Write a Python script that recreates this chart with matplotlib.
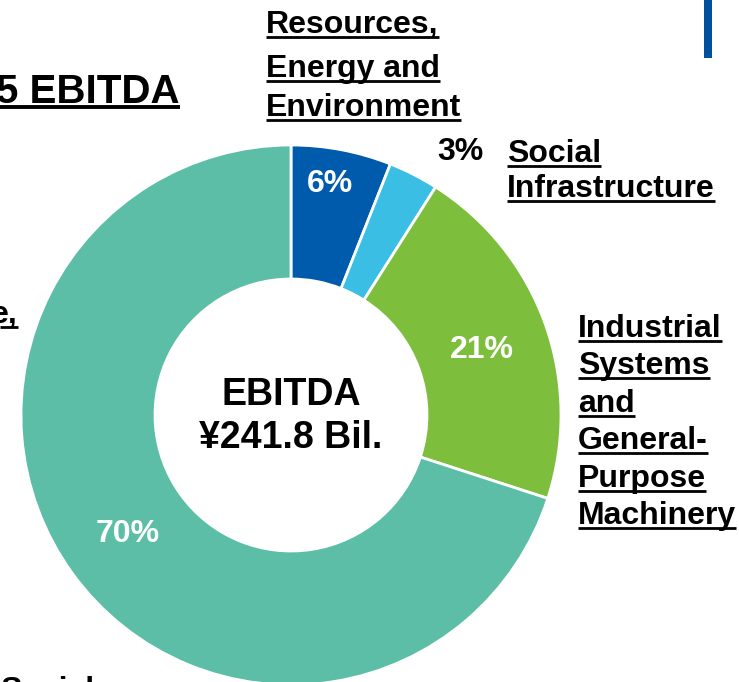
import matplotlib
matplotlib.use("Agg")
import matplotlib.pyplot as plt

plt.rcParams['font.family'] = ['Liberation Sans', 'DejaVu Sans']
plt.rcParams['font.weight'] = 'bold'

# segment shares of EBITDA (%), clockwise from 12 o'clock
segments = ['Resources, Energy and Environment', 'Social Infrastructure',
            'Industrial Systems and General-Purpose Machinery', 'Aerospace, Defense and Security']
shares = [6, 3, 21, 70]
share_labels = ['6%', '3%', '21%', '70%']
colors = ['#005BAC', '#3BBEE4', '#7DBE3D', '#5CBEA6']
total_text = ['EBITDA', '\u00a5241.8 Bil.']

W, H = 739, 682
fig = plt.figure(figsize=(W / 100, H / 100), dpi=100)
ax = fig.add_axes([0, 0, 1, 1])


def y(v):
    # image pixel row -> axes coordinate (origin at bottom)
    return H - v


cx, cy, r_out, r_in = 291, 415, 270, 136
ax.pie(shares, colors=colors, startangle=90, counterclock=False,
       radius=r_out, center=(cx, y(cy)),
       wedgeprops=dict(width=r_out - r_in, edgecolor='white', linewidth=2))
ax.set_xlim(0, W)
ax.set_ylim(0, H)
ax.set_aspect('auto')
ax.axis('off')

# percentages on the ring
ax.text(330, y(184), share_labels[0], color='white', fontsize=23, ha='center', va='center')
ax.text(460, y(152), share_labels[1], color='black', fontsize=23, ha='center', va='center')
ax.text(482, y(350), share_labels[2], color='white', fontsize=23, ha='center', va='center')
ax.text(128, y(534), share_labels[3], color='white', fontsize=23, ha='center', va='center')

# centre text
ax.text(cx, y(405), total_text[0], fontsize=27, ha='center', va='baseline')
ax.text(cx, y(448), total_text[1], fontsize=27, ha='center', va='baseline')

# underlined labels: (text, x, baseline row, size, ha)
underlined = [
    ('Resources,', 266, 33, 23, 'left'),
    ('Energy and', 266, 77, 23, 'left'),
    ('Environment', 266, 116, 23, 'left'),
    ('Social', 507, 162, 23, 'left'),
    ('Infrastructure', 507, 197, 23, 'left'),
    ('5 EBITDA', 180, 103, 29, 'right'),
    ('e,', 18, 323, 23, 'right'),
]
right_lines = ['Industrial', 'Systems', 'and', 'General-', 'Purpose', 'Machinery']
for i, s in enumerate(right_lines):
    underlined.append((s, 578, 337 + 37.4 * i, 23, 'left'))

texts = []
for s, x, b, fs, ha in underlined:
    t = ax.text(x, y(b), s, fontsize=fs, ha=ha, va='baseline')
    texts.append((t, b, fs))

# cropped label at the bottom edge
ax.text(0, y(676), 'Social', fontsize=23, ha='left', va='top')

# blue marker bar at top right
ax.add_patch(plt.Rectangle((704, y(58)), 8, 58, color='#0050A0', lw=0))

fig.canvas.draw()
rend = fig.canvas.get_renderer()
for t, b, fs in texts:
    bb = t.get_window_extent(rend)
    lw = 2.0 if fs < 25 else 2.8
    ax.plot([max(bb.x0, 0), bb.x1], [y(b + 4), y(b + 4)], color='black', lw=lw,
            solid_capstyle='butt')

fig.savefig('out.png', dpi=100)
